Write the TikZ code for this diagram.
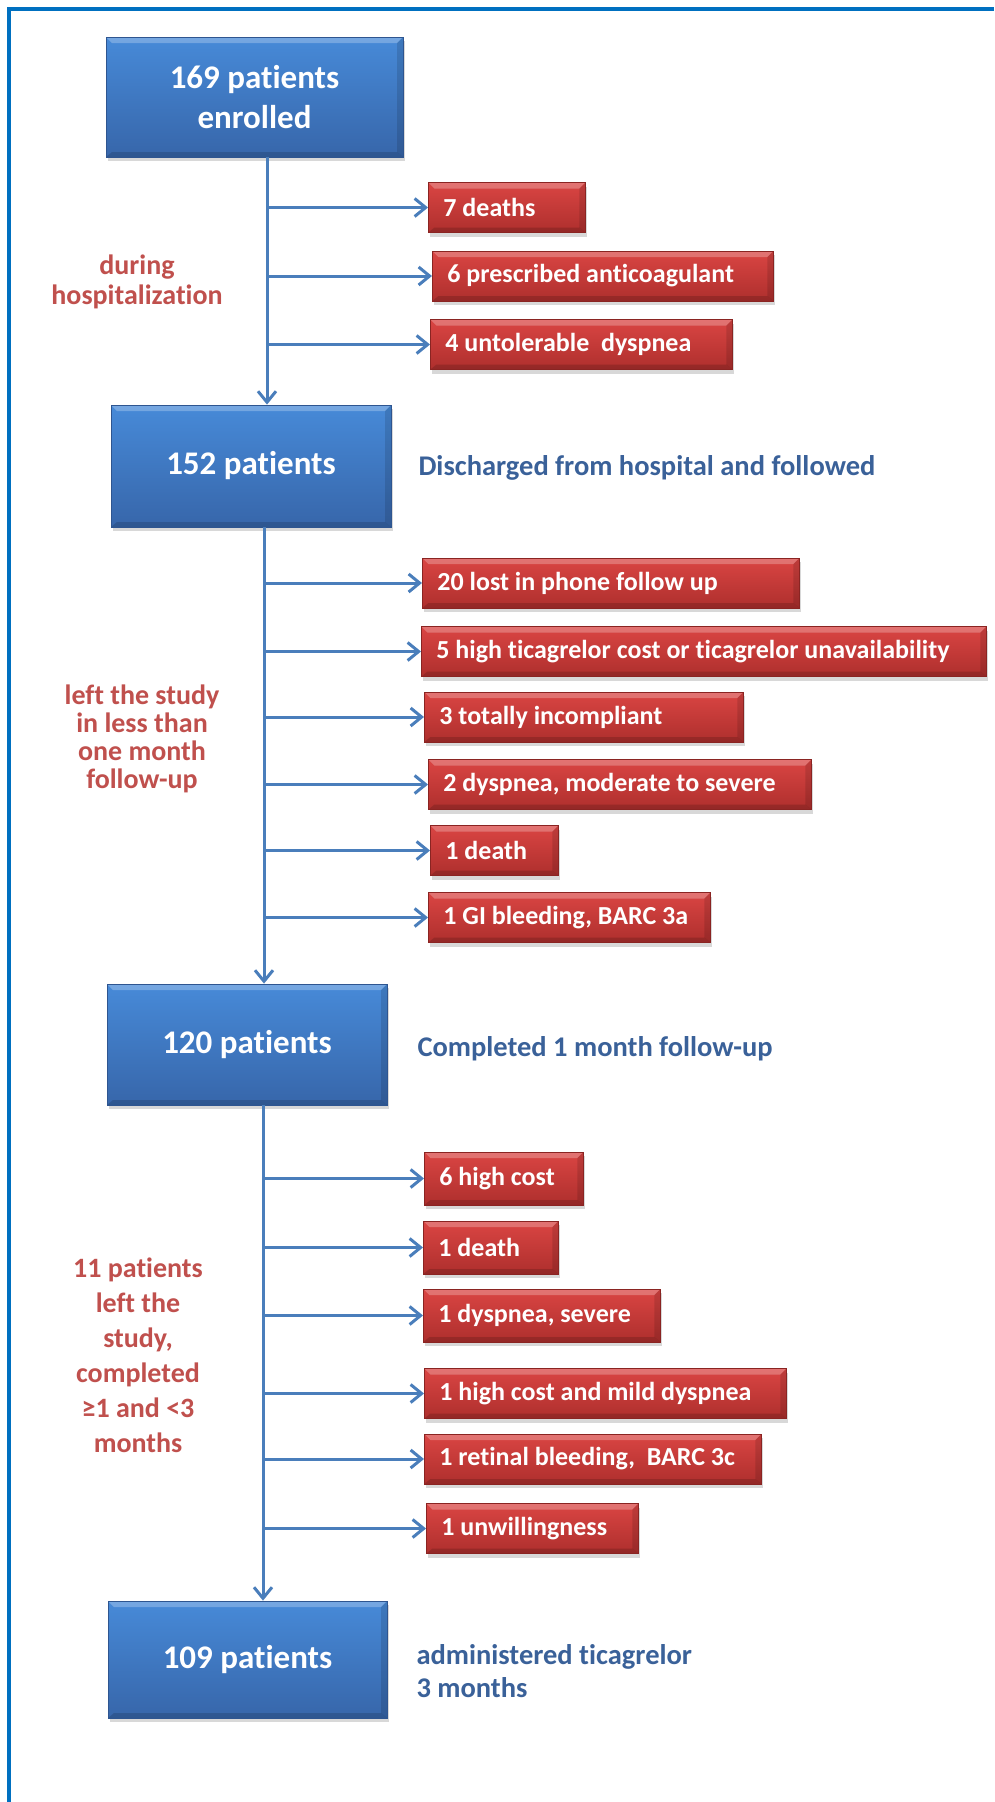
\documentclass[tikz,border=0pt]{standalone}
\usepackage{fontspec}
\setmainfont{Carlito}[Ligatures=NoCommon]
\usetikzlibrary{arrows.meta,shadows}

\definecolor{frameblue}{HTML}{0070C0}
\definecolor{lineblue}{HTML}{4A7EBB}
\definecolor{boxtop}{HTML}{478AD8}
\definecolor{boxbot}{HTML}{3766AA}
\definecolor{boxedge}{HTML}{2E5590}
\definecolor{redtop}{HTML}{DA4543}
\definecolor{redbot}{HTML}{AE2F2D}
\definecolor{rededge}{HTML}{8A2422}
\definecolor{notered}{HTML}{C0504D}
\definecolor{noteblue}{HTML}{3A6199}

\tikzset{
  bevel/.style={path picture={
      \fill[white,opacity=0.25] (path picture bounding box.north west) -- (path picture bounding box.north east)
        -- ([shift={(-6pt,-6pt)}]path picture bounding box.north east) -- ([shift={(6pt,-6pt)}]path picture bounding box.north west) -- cycle;
      \fill[black,opacity=0.15] (path picture bounding box.south west) -- (path picture bounding box.south east)
        -- ([shift={(-6pt,5pt)}]path picture bounding box.south east) -- ([shift={(6pt,5pt)}]path picture bounding box.south west) -- cycle;
      \fill[black,opacity=0.12] (path picture bounding box.north east) -- (path picture bounding box.south east)
        -- ([shift={(-6pt,5pt)}]path picture bounding box.south east) -- ([shift={(-6pt,-6pt)}]path picture bounding box.north east) -- cycle;}},
  bluebox/.style={rectangle, draw=boxedge, line width=0.8pt, top color=boxtop, bottom color=boxbot,
    bevel, drop shadow={opacity=0.3, shadow xshift=2pt, shadow yshift=-4pt},
    text=white, align=center, font=\fontsize{33}{40}\selectfont\bfseries},
  redbox/.style={rectangle, draw=rededge, line width=0.8pt, top color=redtop, bottom color=redbot,
    bevel, drop shadow={opacity=0.3, shadow xshift=2pt, shadow yshift=-4pt},
    anchor=west, minimum height=50pt, inner xsep=15pt, align=flush left,
    text=white, font=\fontsize{26}{30}\selectfont\bfseries},
  rednote/.style={text=notered, align=center},
  bluenote/.style={text=noteblue, anchor=west, align=flush left, font=\fontsize{28.5}{33}\selectfont\bfseries},
  flow/.style={draw=lineblue, line width=3pt, -{Straight Barb[length=11pt,width=18pt]}},
}

\begin{document}
\begin{tikzpicture}[x=1pt,y=-1pt]
\useasboundingbox (0,0) rectangle (994,1802);
\fill[white] (0,0) rectangle (994,1802);
\draw[frameblue, line width=4pt] (9,1802) -- (9,9) -- (994,9);

% main boxes
\node[bluebox, minimum width=297pt, minimum height=120pt] (enrolled) at (254.5,97) {169 patients\\enrolled};
\node[bluebox, minimum width=280pt, minimum height=122pt] (discharged) at (251,466) {152 patients};
\node[bluebox, minimum width=280pt, minimum height=121pt] (onemonth) at (247,1044.5) {120 patients};
\node[bluebox, minimum width=279pt, minimum height=117pt] (threemonth) at (247.5,1659.5) {109 patients};

\node[bluenote] (dischargedtxt) at (415,468) {Discharged from hospital and followed};
\node[bluenote] (onemonthtxt) at (414,1049) {Completed 1 month follow-up};
\node[bluenote] (threemonthtxt) at (413,1671.5) {administered ticagrelor\\3 months};

% notes on the left
\node[rednote, font=\fontsize{28}{30}\selectfont\bfseries] (hosp) at (137,282) {during\\hospitalization};
\node[rednote, font=\fontsize{28}{28}\selectfont\bfseries] (lessmonth) at (142,739) {left the study\\in less than\\one month\\follow-up};
\node[rednote, font=\fontsize{28}{35}\selectfont\bfseries] (lessthree) at (138,1355) {11 patients\\left the\\study,\\completed\\≥1 and <3\\months};

% exclusions during hospitalization
\node[redbox, text width=127pt] (deaths) at (428,207.5) {7 deaths};
\node[redbox, text width=311pt] (anticoag) at (432,276) {6 prescribed anticoagulant};
\node[redbox, text width=272pt] (untol) at (430,344.5) {4 untolerable\ \ dyspnea};

% exclusions before one month
\node[redbox, text width=347pt] (phone) at (422,583) {20 lost in phone follow up};
\node[redbox, text width=535pt] (cost) at (421,651.5) {5 high ticagrelor cost or ticagrelor unavailability};
\node[redbox, text width=289pt] (incompl) at (424,717) {3 totally incompliant};
\node[redbox, text width=353pt] (dysmod) at (428,784.5) {2 dyspnea, moderate to severe};
\node[redbox, text width=98pt] (death1) at (430,850.5) {1 death};
\node[redbox, text width=252pt] (gibleed) at (428,917.5) {1 GI bleeding, BARC 3a};

% exclusions between one and three months
\node[redbox, text width=129pt, minimum height=53pt] (highcost) at (424,1178.5) {6 high cost};
\node[redbox, text width=105pt, minimum height=53pt] (death2) at (423,1247.5) {1 death};
\node[redbox, text width=207pt, minimum height=53pt] (dyssev) at (423,1315.5) {1 dyspnea, severe};
\node[redbox, text width=332pt] (costmild) at (424,1393.5) {1 high cost and mild dyspnea};
\node[redbox, text width=307pt] (retinal) at (424,1459) {1 retinal bleeding,\ \ BARC 3c};
\node[redbox, text width=182pt] (unwill) at (426,1528.5) {1 unwillingness};

% trunks
\coordinate (ta) at (267,0);
\coordinate (tb) at (264,0);
\coordinate (tc) at (263,0);
\draw[flow] (ta |- enrolled.south) -- (ta |- discharged.north);
\draw[flow] (tb |- discharged.south) -- (tb |- onemonth.north);
\draw[flow] (tc |- onemonth.south) -- (tc |- threemonth.north);

% branches
\foreach \b in {deaths,anticoag,untol}
  \draw[flow] (ta |- \b.west) -- (\b.west);
\foreach \b in {phone,cost,incompl,dysmod,death1,gibleed}
  \draw[flow] (tb |- \b.west) -- (\b.west);
\foreach \b in {highcost,death2,dyssev,costmild,retinal,unwill}
  \draw[flow] (tc |- \b.west) -- (\b.west);
\end{tikzpicture}
\end{document}
